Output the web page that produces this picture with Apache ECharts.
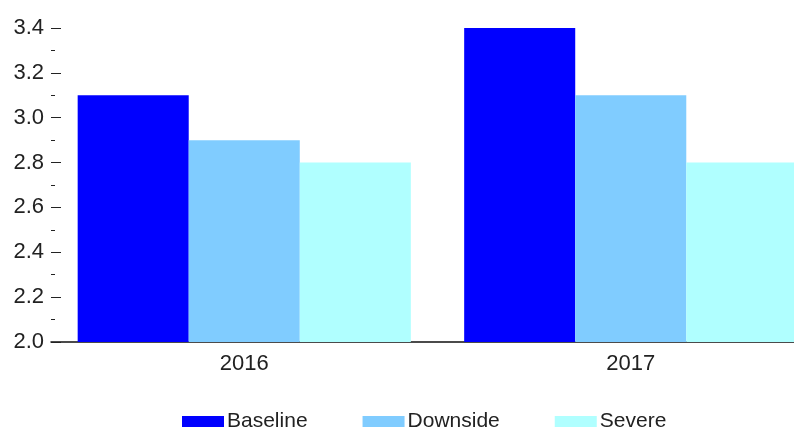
<!DOCTYPE html>
<html>
<head>
<meta charset="utf-8">
<script src="https://cdn.jsdelivr.net/npm/echarts@6/dist/echarts.min.js"></script>
<style>
  html, body { margin: 0; padding: 0; background: #fff; }
  #chart { width: 794px; height: 427px; }
</style>
</head>
<body>
<div id="chart"></div>
<script>
// Scenario values by year
const years = ['2016', '2017'];
const baseline = [3.1, 3.4];
const downside = [2.9, 3.1];
const severe = [2.8, 2.8];
const seriesNames = ['Baseline', 'Downside', 'Severe'];
const seriesColors = ['#0000FF', '#80CCFF', '#B0FFFF'];
const yTicks = { min: 2.0, max: 3.4, step: 0.2 };

const font = '"Liberation Sans", Arial, sans-serif';
const chart = echarts.init(document.getElementById('chart'), null, { renderer: 'canvas' });

const values = [baseline, downside, severe];

chart.setOption({
  animation: false,
  textStyle: { fontFamily: font },
  // the plot runs past the right edge of the canvas
  grid: { left: 51, top: 28, bottom: 85, right: -30, outerBoundsMode: 'none', containLabel: false },
  legend: {
    data: seriesNames,
    left: 177,
    top: 406,
    itemWidth: 42,
    itemHeight: 11,
    itemGap: 55,
    icon: 'rect',
    textStyle: { fontFamily: font, fontSize: 21, color: '#222', padding: [0, 0, 0, -2] }
  },
  xAxis: {
    type: 'category',
    data: years,
    axisLine: { show: true, lineStyle: { color: '#111', width: 1.5 } },
    axisTick: { show: false },
    axisLabel: { fontFamily: font, fontSize: 22, color: '#222', margin: 11 }
  },
  yAxis: {
    type: 'value',
    min: yTicks.min,
    max: yTicks.max,
    interval: yTicks.step,
    axisLine: { show: false },
    axisTick: { show: true, inside: true, length: 10, lineStyle: { color: '#222', width: 1 } },
    minorTick: { show: true, splitNumber: 2, length: 4, lineStyle: { color: '#222', width: 1 } },
    splitLine: { show: false },
    axisLabel: {
      fontFamily: font, fontSize: 22, color: '#222', margin: 7,
      formatter: v => v.toFixed(1)
    }
  },
  series: seriesNames.map((name, i) => ({
    name,
    type: 'bar',
    data: values[i],
    barGap: '0%',
    barCategoryGap: '13.8%',
    itemStyle: { color: seriesColors[i] }
  }))
});
</script>
</body>
</html>
